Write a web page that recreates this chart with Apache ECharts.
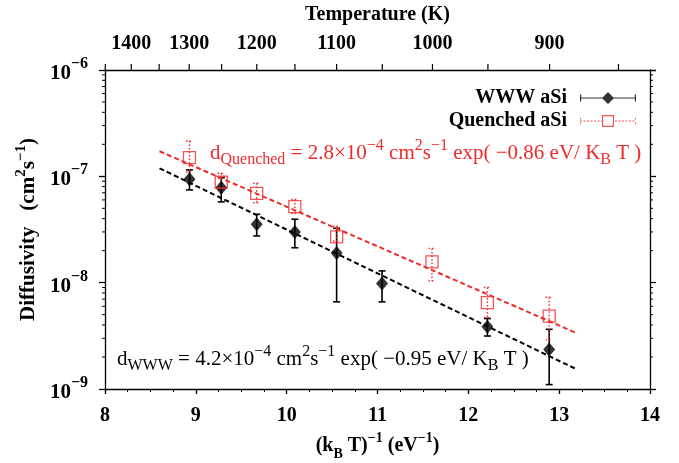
<!DOCTYPE html>
<html>
<head>
<meta charset="utf-8">
<script src="https://cdn.jsdelivr.net/npm/echarts@6/dist/echarts.min.js"></script>
<style>
  html, body { margin: 0; padding: 0; background: #fff; }
  #chart { width: 679px; height: 463px; }
</style>
</head>
<body>
<div id="chart"></div>
<script>
// WWW aSi (1/kT in eV^-1, diffusivity in cm^2/s, error bar ends)
const wwwX = [8.93, 9.28, 9.67, 10.09, 10.55, 11.05, 12.21, 12.89];
const wwwD = [9.4e-8, 7.8e-8, 3.55e-8, 3.0e-8, 1.9e-8, 9.8e-9, 3.85e-9, 2.35e-9];
const wwwLo = [7.45e-8, 5.75e-8, 2.75e-8, 2.13e-8, 6.6e-9, 6.6e-9, 3.15e-9, 1.1e-9];
const wwwHi = [1.15e-7, 9.7e-8, 4.4e-8, 3.95e-8, 3.25e-8, 1.29e-8, 4.6e-9, 3.64e-9];

// Quenched aSi
const qX = [8.93, 9.28, 9.67, 10.09, 10.55, 11.6, 12.21, 12.89];
const qD = [1.5e-7, 8.8e-8, 6.9e-8, 5.2e-8, 2.7e-8, 1.57e-8, 6.5e-9, 4.85e-9];
const qLo = [1.1e-7, 7.45e-8, 5.65e-8, 4.5e-8, 2.45e-8, 1.04e-8, 4.7e-9, 2.9e-9];
const qHi = [2.15e-7, 1.07e-7, 8.6e-8, 6.05e-8, 3.4e-8, 2.1e-8, 9.0e-9, 7.3e-9];

// Arrhenius fit lines (end points)
const fitX = [8.6, 13.2];
const wwwFit = [1.19e-7, 1.52e-9];
const qFit = [1.72e-7, 3.33e-9];

// top axis (temperature) ticks
const tempTicks = [1450, 1400, 1350, 1300, 1250, 1200, 1150, 1100, 1050, 1000, 950, 900, 850];
const tempLabels = [1400, 1300, 1200, 1100, 1000, 900];
const kB = 8.617e-5;

// log minor ticks
const decades = [1e-9, 1e-8, 1e-7];
const minorMant = [2, 3, 4, 5, 6, 7, 8, 9];

const RED = '#ee2a2a';
const FONT = 'Liberation Serif';

const chart = echarts.init(document.getElementById('chart'));

const minorY = [];
decades.forEach(d => minorMant.forEach(m => minorY.push([8, m * d])));

// legend icons
const blackIcon = 'path://M0,5.4H56V6.6H0Z M0,2.5H1.2V9.5H0Z M54.8,2.5H56V9.5H54.8Z M28,0L34,6L28,12L22,6Z';
let redPath = 'M22,0H34V12H22Z M23.2,1.2V10.8H32.8V1.2Z';
for (let x = 0; x < 22; x += 3.5) redPath += ' M' + x + ',5.4H' + (x + 2) + 'V6.6H' + x + 'Z';
for (let x = 35; x < 56; x += 3.5) redPath += ' M' + x + ',5.4H' + Math.min(x + 2, 56) + 'V6.6H' + x + 'Z';
redPath += ' M0,3H1V4.5H0Z M0,7.5H1V9H0Z M55,3H56V4.5H55Z M55,7.5H56V9H55Z';
const redIcon = 'path://' + redPath;

const errBar = (lineStyle) => function (params, api) {
  const x = api.value(0);
  const top = api.coord([x, api.value(2)]);
  const bot = api.coord([x, api.value(1)]);
  const w = 3.5;
  return {
    type: 'group',
    children: [
      {type: 'line', shape: {x1: top[0], y1: top[1], x2: bot[0], y2: bot[1]}, style: lineStyle},
      {type: 'line', shape: {x1: top[0] - w, y1: top[1], x2: top[0] + w, y2: top[1]}, style: lineStyle},
      {type: 'line', shape: {x1: bot[0] - w, y1: bot[1], x2: bot[0] + w, y2: bot[1]}, style: lineStyle}
    ]
  };
};

const axisLineStyle = {color: '#000', width: 1.3};
const sup = (t) => '{sup|' + t + '}';

const option = {
  animation: false,
  backgroundColor: '#fff',
  textStyle: {fontFamily: FONT},
  grid: {left: 105, right: 29, top: 70, bottom: 74, outerBoundsMode: 'none'},
  legend: {
    orient: 'vertical',
    right: 38,
    top: 83,
    align: 'right',
    itemWidth: 56,
    itemHeight: 12,
    itemGap: 3,
    textStyle: {fontFamily: FONT, fontWeight: 'bold', fontSize: 20, color: '#000', padding: [0, 8, 0, 0]},
    data: [
      {name: 'WWW aSi', icon: blackIcon, itemStyle: {color: '#000', borderWidth: 0}},
      {name: 'Quenched aSi', icon: redIcon, itemStyle: {color: RED, borderWidth: 0}}
    ]
  },
  xAxis: [
    {
      type: 'value', min: 8, max: 14, interval: 1,
      axisLine: {lineStyle: axisLineStyle},
      axisTick: {length: 5, lineStyle: axisLineStyle},
      minorTick: {show: true, splitNumber: 4, length: 3, lineStyle: {color: '#000', width: 1}},
      splitLine: {show: false},
      axisLabel: {fontFamily: FONT, fontWeight: 'bold', fontSize: 20, color: '#000', margin: 17},
      name: '{b|(k}{sub|B}{b| T)}' + sup('−1') + '{b| (eV}' + sup('−1') + '{b|)}',
      nameLocation: 'middle',
      nameGap: 40,
      nameTextStyle: {
        rich: {
          b: {fontFamily: FONT, fontWeight: 'bold', fontSize: 20, color: '#000', lineHeight: 30, verticalAlign: 'middle'},
          sup: {fontFamily: FONT, fontWeight: 'bold', fontSize: 14, color: '#000', verticalAlign: 'top'},
          sub: {fontFamily: FONT, fontWeight: 'bold', fontSize: 14, color: '#000', verticalAlign: 'bottom'}
        }
      }
    },
    {
      type: 'value', min: 8, max: 14, position: 'top',
      axisLine: {lineStyle: axisLineStyle},
      axisTick: {show: false},
      axisLabel: {show: false},
      splitLine: {show: false},
      name: 'Temperature (K)',
      nameLocation: 'middle',
      nameGap: 45,
      nameTextStyle: {fontFamily: FONT, fontWeight: 'bold', fontSize: 20, color: '#000'}
    }
  ],
  yAxis: [
    {
      type: 'log', logBase: 10, min: 1e-9, max: 1e-6,
      axisLine: {lineStyle: axisLineStyle},
      axisTick: {length: 6, lineStyle: axisLineStyle},
      splitLine: {show: false},
      axisLabel: {
        margin: 17,
        formatter: v => '{b|10}{s|' + String(Math.round(Math.log10(v))).replace('-', '−') + '}',
        rich: {
          b: {fontFamily: FONT, fontWeight: 'bold', fontSize: 21, color: '#000', lineHeight: 28, verticalAlign: 'bottom'},
          s: {fontFamily: FONT, fontWeight: 'bold', fontSize: 16, color: '#000', verticalAlign: 'top'}
        }
      },
      name: '{b|Diffusivity   (cm}' + sup('2') + '{b|s}' + sup('−1') + '{b|)}',
      nameLocation: 'middle',
      nameRotate: 90,
      nameGap: 53,
      nameTextStyle: {
        rich: {
          b: {fontFamily: FONT, fontWeight: 'bold', fontSize: 21, color: '#000', lineHeight: 30, verticalAlign: 'middle'},
          sup: {fontFamily: FONT, fontWeight: 'bold', fontSize: 15, color: '#000', verticalAlign: 'top'}
        }
      }
    },
    {
      type: 'log', logBase: 10, min: 1e-9, max: 1e-6, position: 'right',
      axisLine: {lineStyle: axisLineStyle},
      axisTick: {length: 6, lineStyle: axisLineStyle},
      axisLabel: {show: false},
      splitLine: {show: false}
    }
  ],
  graphic: [
    {
      type: 'text', x: 210, y: 153, silent: true,
      style: {
        text: '{b|d}{sub|Quenched}{b| = 2.8×10}' + sup('−4') + '{b| cm}' + sup('2') + '{b|s}' + sup('−1') +
          '{b| exp( −0.86 eV/ K}{sub|B}{b| T )}',
        verticalAlign: 'middle',
        rich: {
          b: {fontFamily: FONT, fontSize: 21, fill: RED, lineHeight: 30, verticalAlign: 'middle'},
          sup: {fontFamily: FONT, fontSize: 16, fill: RED, verticalAlign: 'top'},
          sub: {fontFamily: FONT, fontSize: 16, fill: RED, verticalAlign: 'bottom'}
        }
      }
    },
    {
      type: 'text', x: 117, y: 359, silent: true,
      style: {
        text: '{b|d}{sub|WWW}{b| = 4.2×10}' + sup('−4') + '{b| cm}' + sup('2') + '{b|s}' + sup('−1') +
          '{b| exp( −0.95 eV/ K}{sub|B}{b| T )}',
        verticalAlign: 'middle',
        rich: {
          b: {fontFamily: FONT, fontSize: 21, fill: '#000', lineHeight: 30, verticalAlign: 'middle'},
          sup: {fontFamily: FONT, fontSize: 16, fill: '#000', verticalAlign: 'top'},
          sub: {fontFamily: FONT, fontSize: 16, fill: '#000', verticalAlign: 'bottom'}
        }
      }
    }
  ],
  series: [
    {
      name: 'axisDecor', type: 'custom', clip: false, silent: true,
      data: tempTicks.map(T => [1 / (kB * T), 1e-6, T]),
      encode: {x: 0, y: 1},
      renderItem: function (params, api) {
        const p = api.coord([api.value(0), api.value(1)]);
        const T = api.value(2);
        const children = [{type: 'line', shape: {x1: p[0], y1: p[1], x2: p[0], y2: p[1] - 6}, style: {stroke: '#000', lineWidth: 1.2}}];
        if (tempLabels.indexOf(T) >= 0) {
          children.push({
            type: 'text', x: p[0], y: p[1] - 26,
            style: {text: String(T), fontFamily: FONT, fontWeight: 'bold', fontSize: 20, fill: '#000', align: 'center', verticalAlign: 'middle'}
          });
        }
        return {type: 'group', children};
      }
    },
    {
      name: 'minorY', type: 'custom', clip: false, silent: true,
      data: minorY,
      encode: {x: 0, y: 1},
      renderItem: function (params, api) {
        const l = api.coord([8, api.value(1)]);
        const r = api.coord([14, api.value(1)]);
        const st = {stroke: '#000', lineWidth: 1};
        return {
          type: 'group', children: [
            {type: 'line', shape: {x1: l[0], y1: l[1], x2: l[0] - 3, y2: l[1]}, style: st},
            {type: 'line', shape: {x1: r[0], y1: r[1], x2: r[0] + 3, y2: r[1]}, style: st}
          ]
        };
      }
    },
    {
      name: 'wwwFit', type: 'line', symbol: 'none', silent: true,
      data: fitX.map((x, i) => [x, wwwFit[i]]),
      lineStyle: {color: '#000', width: 2, type: [5, 3]}
    },
    {
      name: 'qFit', type: 'line', symbol: 'none', silent: true,
      data: fitX.map((x, i) => [x, qFit[i]]),
      lineStyle: {color: RED, width: 2, type: [5, 3]}
    },
    {
      name: 'wwwErr', type: 'custom', silent: true,
      data: wwwX.map((x, i) => [x, wwwLo[i], wwwHi[i]]),
      encode: {x: 0, y: [1, 2]},
      renderItem: errBar({stroke: '#000', lineWidth: 1.6})
    },
    {
      name: 'WWW aSi', type: 'scatter', symbol: 'diamond', symbolSize: [12, 14],
      data: wwwX.map((x, i) => [x, wwwD[i]]),
      itemStyle: {color: '#000'}
    },
    {
      name: 'qErr', type: 'custom', silent: true,
      data: qX.map((x, i) => [x, qLo[i], qHi[i]]),
      encode: {x: 0, y: [1, 2]},
      renderItem: errBar({stroke: RED, lineWidth: 1.4, lineDash: [1.5, 2]})
    },
    {
      name: 'Quenched aSi', type: 'scatter', symbol: 'rect', symbolSize: 12,
      data: qX.map((x, i) => [x, qD[i]]),
      itemStyle: {color: 'rgba(255,255,255,0)', borderColor: RED, borderWidth: 1.3}
    }
  ]
};

chart.setOption(option);
</script>
</body>
</html>
